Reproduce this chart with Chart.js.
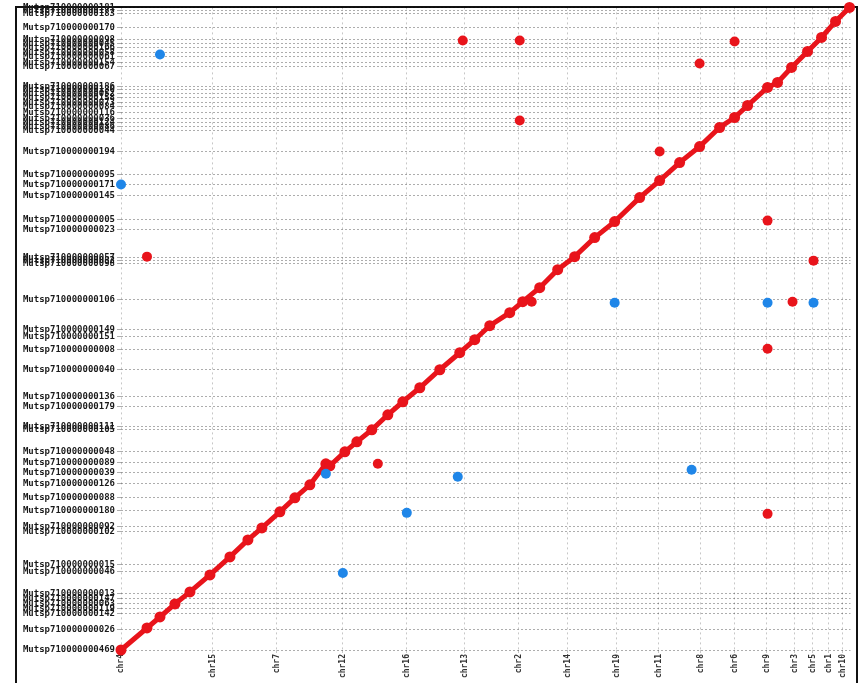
<!DOCTYPE html>
<html>
<head>
<meta charset="utf-8">
<script src="https://cdn.jsdelivr.net/npm/chart.js@4"></script>
<style>
  html, body { margin: 0; padding: 0; background: #fff; overflow: hidden; }
  #frame { position: absolute; left: 15px; top: 6px; width: 839px; height: 700px; border: 2px solid #111; }
  #wrap { position: absolute; left: 17px; top: 0; width: 839px; height: 683px; }
</style>
</head>
<body>
<div id="frame"></div>
<div id="wrap"><canvas id="dotplot"></canvas></div>
<script>
// reference chromosomes (x axis), start positions
const chromLabels = ['chr4', 'chr15', 'chr7', 'chr12', 'chr16', 'chr13', 'chr2', 'chr14', 'chr19',
  'chr11', 'chr8', 'chr6', 'chr9', 'chr3', 'chr5', 'chr1', 'chr10'];
const chromStarts = [0, 92, 156, 222, 286, 344, 398, 447, 496, 538, 580, 614, 646, 674, 692, 708, 722];

// query contigs (y axis), start positions
const contigLabels = ['Mutsp710000000181', 'Mutsp710000000177', 'Mutsp710000000183', 'Mutsp710000000170',
  'Mutsp710000000098', 'Mutsp710000000045', 'Mutsp710000000166', 'Mutsp710000000058', 'Mutsp710000000061',
  'Mutsp710000000154', 'Mutsp710000000067', 'Mutsp710000000186', 'Mutsp710000000130', 'Mutsp710000000052',
  'Mutsp710000000158', 'Mutsp710000000073', 'Mutsp710000000084', 'Mutsp710000000116', 'Mutsp710000000036',
  'Mutsp710000000124', 'Mutsp710000000086', 'Mutsp710000000044', 'Mutsp710000000194', 'Mutsp710000000095',
  'Mutsp710000000171', 'Mutsp710000000145', 'Mutsp710000000005', 'Mutsp710000000023', 'Mutsp710000000057',
  'Mutsp710000000082', 'Mutsp710000000098', 'Mutsp710000000106', 'Mutsp710000000149', 'Mutsp710000000151',
  'Mutsp710000000008', 'Mutsp710000000040', 'Mutsp710000000136', 'Mutsp710000000179', 'Mutsp710000000111',
  'Mutsp710000000105', 'Mutsp710000000048', 'Mutsp710000000089', 'Mutsp710000000039', 'Mutsp710000000126',
  'Mutsp710000000088', 'Mutsp710000000180', 'Mutsp710000000092', 'Mutsp710000000102', 'Mutsp710000000015',
  'Mutsp710000000046', 'Mutsp710000000013', 'Mutsp710000000147', 'Mutsp710000000063', 'Mutsp710000000119',
  'Mutsp710000000142', 'Mutsp710000000026', 'Mutsp710000000469'];
const contigStarts = [642, 639, 636, 622, 610, 606, 602, 597, 593, 587, 583, 563, 560, 556, 552, 547, 543,
  537, 531, 527, 523, 519, 498, 475, 465, 454, 430, 420, 392, 389, 386, 350, 320, 313, 300, 280, 253, 243,
  223, 220, 198, 187, 177, 166, 152, 139, 123, 118, 85, 78, 56, 51, 46, 41, 36, 20, 0];

// syntenic hits along the diagonal [ref pos, query pos]
const diagonalHits = [[0, 0], [26, 22], [39, 33], [54, 46], [69, 58], [89, 75], [109, 93], [127, 110],
  [141, 122], [159, 138], [174, 152], [189, 165], [205, 186], [209, 184], [224, 198], [236, 208], [251, 220],
  [267, 235], [282, 248], [299, 262], [319, 280], [339, 297], [354, 310], [369, 324], [389, 337], [402, 348],
  [419, 362], [437, 380], [454, 393], [474, 412], [494, 428], [519, 452], [539, 469], [559, 487], [579, 503],
  [599, 522], [614, 532], [627, 544], [647, 562], [657, 567], [671, 582], [687, 598], [701, 612], [715, 628],
  [729, 642]];

// off-diagonal hits
const redHits = [[342, 609], [399, 609], [614, 608], [579, 586], [399, 529], [539, 498], [647, 429],
  [26, 393], [693, 389], [411, 348], [672, 348], [647, 301], [257, 186], [647, 136]];
const blueHits = [[39, 595], [0, 465], [494, 347], [647, 347], [693, 347], [571, 180], [205, 176],
  [337, 173], [286, 137], [222, 77]];

const RED = '#e8141b';
const BLUE = '#1f86e8';
const toPts = arr => arr.map(([x, y]) => ({ x, y }));

new Chart(document.getElementById('dotplot'), {
  type: 'scatter',
  data: {
    datasets: [
      {
        data: toPts(diagonalHits),
        showLine: true,
        borderColor: RED,
        borderWidth: 5,
        backgroundColor: RED,
        pointRadius: 5.5,
        pointBorderWidth: 0,
        order: 3
      },
      {
        data: toPts(redHits),
        backgroundColor: RED,
        pointRadius: 5,
        pointBorderWidth: 0,
        order: 2
      },
      {
        data: toPts(blueHits),
        backgroundColor: BLUE,
        pointRadius: 5,
        pointBorderWidth: 0,
        order: 1
      }
    ]
  },
  options: {
    responsive: true,
    maintainAspectRatio: false,
    animation: false,
    clip: false,
    layout: { padding: { top: 4, right: 4, left: 0, bottom: 0 } },
    plugins: { legend: { display: false }, tooltip: { enabled: false } },
    scales: {
      x: {
        type: 'linear',
        min: 0,
        max: 730,
        afterBuildTicks: axis => { axis.ticks = chromStarts.map(v => ({ value: v })); },
        afterFit: axis => { axis.height = 33; },
        border: { display: false, dash: [2, 3] },
        grid: { color: 'rgba(0,0,0,0.22)', tickLength: 3, lineWidth: 1 },
        ticks: {
          autoSkip: false,
          minRotation: 90,
          maxRotation: 90,
          padding: 1,
          color: '#333',
          font: { family: 'DejaVu Sans Mono', size: 8, weight: 'bold' },
          callback: (v, i) => chromLabels[i]
        }
      },
      y: {
        type: 'linear',
        min: 0,
        max: 642,
        afterBuildTicks: axis => { axis.ticks = contigStarts.slice().reverse().map(v => ({ value: v })); },
        afterFit: axis => { axis.width = 104; },
        border: { display: false, dash: [2, 2] },
        grid: { color: 'rgba(0,0,0,0.32)', tickLength: 4, lineWidth: 1 },
        ticks: {
          autoSkip: false,
          padding: 2,
          color: '#1a1a1a',
          font: { family: 'DejaVu Sans Mono', size: 9, weight: 'bold' },
          callback: (v, i) => contigLabels[contigLabels.length - 1 - i]
        }
      }
    }
  }
});
</script>
</body>
</html>
